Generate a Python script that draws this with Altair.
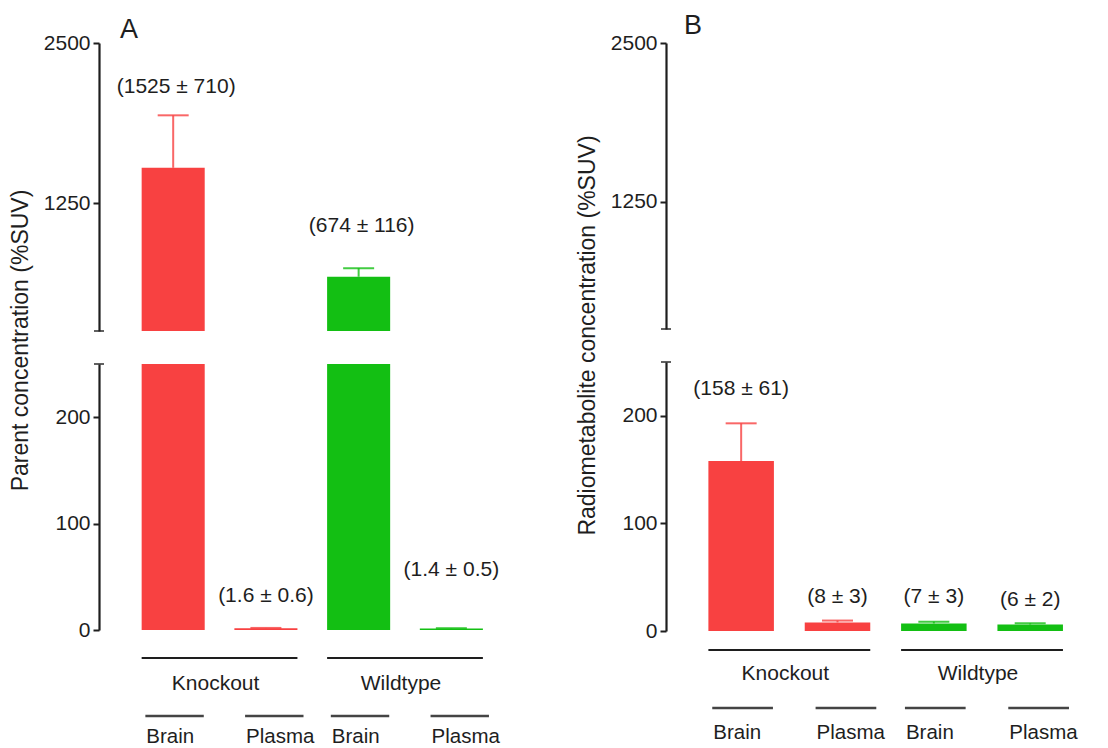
import altair as alt
import pandas as pd

# ---------------- data ----------------
GROUPS = ["Knockout", "Knockout", "Wildtype", "Wildtype"]
TISSUES = ["Brain", "Plasma", "Brain", "Plasma"]
POSITIONS = [1, 2, 3, 4]

# Panel A: parent concentration (%SUV)
PARENT_MEAN = [1525, 1.6, 674, 1.4]
PARENT_SD = [710, 0.6, 116, 0.5]
PARENT_SEM = [410, 0.35, 67, 0.29]        # error bars as drawn
PARENT_LABEL_Y = [2160, 32, 1070, 56]     # where the value labels sit

# Panel B: radiometabolite concentration (%SUV)
METAB_MEAN = [158, 8, 7, 6]
METAB_SD = [61, 3, 3, 2]
METAB_SEM = [35, 1.7, 1.7, 1.2]
METAB_LABEL_Y = [225, 32, 32, 29]

UPPER_TICKS = [1250, 2500]
LOWER_TICKS = [0, 100, 200]
Y_BREAK = 250
Y_MAX = 2500

# ---------------- style ----------------
RED = "#f84141"
GREEN = "#13bf13"
INK = "#1e1e1e"
FONT = "Liberation Sans"
HALF = 0.34


def fmt(v):
    return f"{v:g}"


def make_panel(letter, ytitle, mean, sd, sem, label_y, g):
    df = pd.DataFrame({"group": GROUPS, "tissue": TISSUES, "pos": POSITIONS,
                       "mean": mean, "sd": sd, "sem": sem, "label_y": label_y})
    df["lo"] = df["pos"] - HALF
    df["hi"] = df["pos"] + HALF
    df["top"] = df["mean"] + df["sem"]
    df["base"] = 0.0
    df["label"] = [f"({fmt(m)} ± {fmt(s)})" for m, s in zip(mean, sd)]
    df["sub_lo"] = df["pos"] - 0.30
    df["sub_hi"] = df["pos"] + 0.33
    gdf = df.groupby("group", as_index=False).agg(start=("lo", "min"), end=("hi", "max"))
    gdf["mid"] = (gdf["start"] + gdf["end"]) / 2
    gdf["base"] = 0.0
    brk = pd.DataFrame({"x": [g["xmin"]], "y": [Y_BREAK]})

    xscale = alt.Scale(domain=[g["xmin"], g["xmax"]], nice=False, zero=False)
    color = alt.Color("group:N", scale=alt.Scale(domain=["Knockout", "Wildtype"],
                                                 range=[RED, GREEN]), legend=None)
    uscale = alt.Scale(domain=[Y_BREAK, Y_MAX], nice=False, zero=False)
    lscale = alt.Scale(domain=[0, Y_BREAK], nice=False, zero=False)
    common = dict(grid=False, domainColor=INK, domainWidth=2.2, tickColor=INK,
                  tickWidth=2, tickSize=6, labelFont=FONT, labelFontSize=21,
                  labelColor=INK, labelPadding=3, format="d")
    uaxis = alt.Axis(values=UPPER_TICKS, title=None, **common)
    laxis = alt.Axis(values=LOWER_TICKS, title=ytitle, titleFont=FONT, titleFontSize=23,
                     titleFontWeight="normal", titleColor=INK, titleAngle=270,
                     titleAlign="center", titleBaseline="bottom",
                     titleX=g["title_x"], titleY=g["title_y"], **common)

    def X(f):
        return alt.X(f, scale=xscale, axis=None)

    def YU(f):
        return alt.Y(f, scale=uscale, axis=uaxis)

    def YL(f):
        return alt.Y(f, scale=lscale, axis=laxis)

    # ---------- upper segment (250 - 2500) ----------
    u_break = alt.Chart(brk).mark_tick(orient="horizontal", size=10, thickness=2, color=INK).encode(
        x=X("x:Q"), y=YU("y:Q"))
    u_bars = alt.Chart(df).transform_filter(alt.datum.mean > Y_BREAK).mark_bar(clip=True).encode(
        x=X("lo:Q"), x2="hi:Q", y=YU("mean:Q"), y2="base:Q", color=color)
    u_err = alt.Chart(df).transform_filter(alt.datum.mean > Y_BREAK).mark_rule(
        clip=True, strokeWidth=2, opacity=0.8).encode(x=X("pos:Q"), y=YU("mean:Q"), y2="top:Q", color=color)
    u_cap = alt.Chart(df).transform_filter(alt.datum.mean > Y_BREAK).mark_tick(
        orient="horizontal", size=31, thickness=2, clip=True, opacity=0.8).encode(
        x=X("pos:Q"), y=YU("top:Q"), color=color)
    u_lab = alt.Chart(df).transform_filter(alt.datum.label_y >= Y_BREAK).mark_text(
        font=FONT, fontSize=21, color=INK, baseline="middle", dx=3).encode(
        x=X("pos:Q"), y=YU("label_y:Q"), text="label:N")
    upper = alt.layer(u_break, u_bars, u_err, u_cap, u_lab).properties(
        width=g["width"], height=g["hu"],
        title=alt.TitleParams(letter, anchor="start", frame="group", dx=g["letter_dx"],
                              fontSize=27, fontWeight="normal", font=FONT, color=INK,
                              offset=g["title_offset"]))

    # ---------- lower segment (0 - 250) ----------
    l_break = alt.Chart(brk).mark_tick(orient="horizontal", size=10, thickness=2, color=INK).encode(
        x=X("x:Q"), y=YL("y:Q"))
    l_bars = alt.Chart(df).mark_bar(clip=True).encode(
        x=X("lo:Q"), x2="hi:Q", y=YL("mean:Q"), y2="base:Q", color=color)
    l_err = alt.Chart(df).mark_rule(clip=True, strokeWidth=2, opacity=0.8).encode(
        x=X("pos:Q"), y=YL("mean:Q"), y2="top:Q", color=color)
    l_cap = alt.Chart(df).mark_tick(orient="horizontal", size=31, thickness=2, clip=True,
                                    opacity=0.8).encode(
        x=X("pos:Q"), y=YL("top:Q"), color=color)
    l_lab = alt.Chart(df).transform_filter(alt.datum.label_y < Y_BREAK).mark_text(
        font=FONT, fontSize=21, color=INK, baseline="middle").encode(
        x=X("pos:Q"), y=YL("label_y:Q"), text="label:N")
    g_rule = alt.Chart(gdf).mark_rule(strokeWidth=2.2, color=INK, yOffset=g["grp_dy"],
                                      y2Offset=g["grp_dy"]).encode(
        x=X("start:Q"), x2="end:Q", y=YL("base:Q"), y2="base:Q")
    g_text = alt.Chart(gdf).mark_text(font=FONT, fontSize=21, color=INK, baseline="middle",
                                      dx=-4, dy=g["grp_text_dy"]).encode(
        x=X("mid:Q"), y=YL("base:Q"), text="group:N")
    layers = [l_break, l_bars, l_err, l_cap, l_lab, g_rule, g_text]
    for tissue, shift in (("Brain", 0), ("Plasma", 7)):
        sub = alt.Chart(df).transform_filter(alt.datum.tissue == tissue)
        layers.append(sub.mark_rule(strokeWidth=2.4, color="#444", yOffset=g["sub_dy"],
                                    y2Offset=g["sub_dy"], xOffset=shift, x2Offset=shift).encode(
            x=X("sub_lo:Q"), x2="sub_hi:Q", y=YL("base:Q"), y2="base:Q"))
        layers.append(sub.mark_text(font=FONT, fontSize=20.5, color=INK, align="left",
                                    baseline="middle", dx=shift + 1, dy=g["sub_text_dy"]).encode(
            x=X("sub_lo:Q"), y=YL("base:Q"), text="tissue:N"))
    lower = alt.layer(*layers).properties(width=g["width"], height=g["hl"])

    return alt.vconcat(upper, lower, spacing=g["gap"], bounds="flush")


geo_a = dict(xmin=0.2, xmax=4.6, width=408, hu=288, hl=266, gap=33,
             title_x=-67, title_y=-24, letter_dx=21, title_offset=-12,
             grp_dy=28, grp_text_dy=54, sub_dy=86, sub_text_dy=107)
geo_b = dict(xmin=0.22, xmax=4.6, width=422, hu=286, hl=269, gap=33,
             title_x=-67, title_y=-27, letter_dx=18, title_offset=-8,
             grp_dy=19, grp_text_dy=43, sub_dy=77, sub_text_dy=102)

panel_a = make_panel("A", "Parent concentration (%SUV)", PARENT_MEAN, PARENT_SD,
                     PARENT_SEM, PARENT_LABEL_Y, geo_a)
panel_b = make_panel("B", "Radiometabolite concentration (%SUV)", METAB_MEAN, METAB_SD,
                     METAB_SEM, METAB_LABEL_Y, geo_b)

chart = alt.hconcat(panel_a, panel_b, spacing=68).properties(
    padding={"left": 0, "top": 4, "right": 2, "bottom": 2}, background="white"
).configure_view(stroke=None)

chart.save("out.html", embed_options={"renderer": "svg", "actions": False})
